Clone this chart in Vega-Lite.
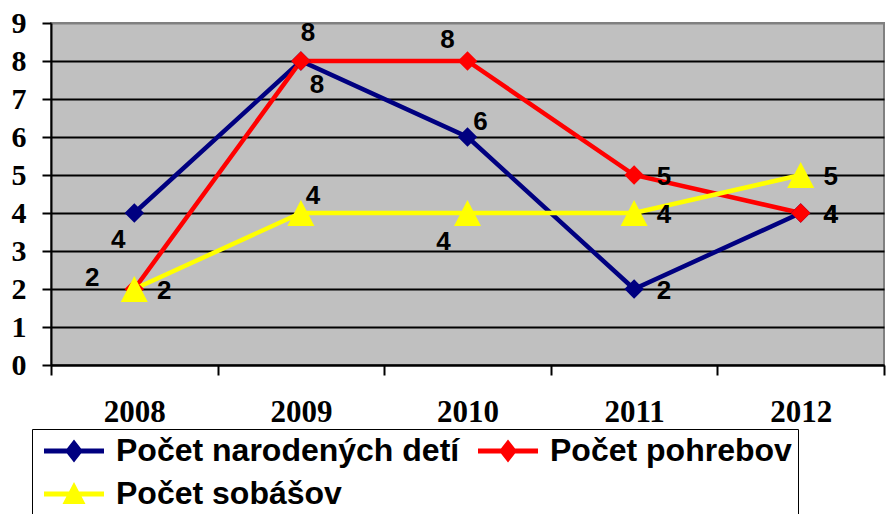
{
  "$schema": "https://vega.github.io/schema/vega-lite/v6.json",
  "width": 833,
  "height": 342,
  "autosize": {"type": "none"},
  "padding": {"left": 51, "top": 23, "right": 7, "bottom": 149},
  "background": "white",
  "config": {
    "view": {"fill": "#C0C0C0", "stroke": "#808080", "strokeWidth": 2},
    "text": {"font": "Liberation Sans", "fontWeight": "bold", "fontSize": 26, "color": "black"}
  },
  "data": {
    "values": [
      {"year": "2008", "series": "Počet narodených detí", "value": 4},
      {"year": "2009", "series": "Počet narodených detí", "value": 8},
      {"year": "2010", "series": "Počet narodených detí", "value": 6},
      {"year": "2011", "series": "Počet narodených detí", "value": 2},
      {"year": "2012", "series": "Počet narodených detí", "value": 4},
      {"year": "2008", "series": "Počet pohrebov", "value": 2},
      {"year": "2009", "series": "Počet pohrebov", "value": 8},
      {"year": "2010", "series": "Počet pohrebov", "value": 8},
      {"year": "2011", "series": "Počet pohrebov", "value": 5},
      {"year": "2012", "series": "Počet pohrebov", "value": 4},
      {"year": "2008", "series": "Počet sobášov", "value": 2},
      {"year": "2009", "series": "Počet sobášov", "value": 4},
      {"year": "2010", "series": "Počet sobášov", "value": 4},
      {"year": "2011", "series": "Počet sobášov", "value": 4},
      {"year": "2012", "series": "Počet sobášov", "value": 5}
    ]
  },
  "encoding": {
    "x": {
      "field": "year", "type": "ordinal",
      "scale": {"type": "band", "paddingInner": 0, "paddingOuter": 0},
      "axis": {
        "title": null, "labelAngle": 0, "grid": false, "tickBand": "extent",
        "domainColor": "black", "domainWidth": 2, "tickColor": "black", "tickWidth": 2, "tickSize": 10,
        "labelFont": "Liberation Serif", "labelFontWeight": "bold", "labelFontSize": 31, "labelColor": "black",
        "labelBaseline": "middle", "labelPadding": 37
      }
    },
    "y": {
      "field": "value", "type": "quantitative",
      "scale": {"domain": [0, 9], "nice": false},
      "axis": {
        "title": null, "values": [0, 1, 2, 3, 4, 5, 6, 7, 8, 9], "format": "d",
        "grid": true, "gridColor": {"condition": {"test": "datum.value === 9", "value": "#808080"}, "value": "black"},
        "gridWidth": 2, "gridOpacity": 1,
        "domainColor": "black", "domainWidth": 2, "tickColor": "black", "tickWidth": 2, "tickSize": 9,
        "labelFont": "Liberation Serif", "labelFontWeight": "bold", "labelFontSize": 30, "labelColor": "black",
        "labelPadding": 16
      }
    }
  },
  "layer": [
    {
      "mark": {"type": "point", "opacity": 0, "size": 1, "filled": true},
      "encoding": {
        "shape": {
          "field": "series", "type": "nominal",
          "scale": {
            "domain": ["Počet narodených detí", "Počet pohrebov", "Počet sobášov"],
            "range": [
              "M-1,-0.25L5,-0.25L5,0.25L-1,0.25Z M2,-1.15L2.9,0L2,1.15L1.1,0Z",
              "M-1,-0.25L5,-0.25L5,0.25L-1,0.25Z M2,-1.15L2.9,0L2,1.15L1.1,0Z",
              "M-1,-0.25L5,-0.25L5,0.25L-1,0.25Z M2,-1.2L3.15,1L0.85,1Z"
            ]
          },
          "legend": {
            "title": null, "orient": "none", "legendX": -19, "legendY": 406,
            "direction": "horizontal", "columns": 2,
            "padding": 6, "strokeColor": "black", "fillColor": "white",
            "symbolSize": 400, "symbolStrokeWidth": 0, "symbolOffset": 0,
            "labelOffset": 46, "labelFont": "Liberation Sans", "labelFontWeight": "bold",
            "labelFontSize": 32, "labelColor": "black", "labelLimit": 900,
            "rowPadding": 11, "columnPadding": 12,
            "encode": {
              "symbols": {"update": {
                "fill": {"scale": "color", "field": "value"},
                "stroke": {"value": "transparent"},
                "opacity": {"value": 1}
              }},
              "legend": {"update": {"strokeWidth": {"value": 2}}}
            }
          }
        }
      }
    },
    {
      "mark": {"type": "line", "strokeWidth": 4.5},
      "encoding": {
        "color": {
          "field": "series", "type": "nominal",
          "scale": {"domain": ["Počet narodených detí", "Počet pohrebov", "Počet sobášov"], "range": ["#000080", "#FF0000", "#FFFF00"]},
          "legend": null
        }
      }
    },
    {
      "transform": [{"filter": "datum.series !== 'Počet sobášov'"}],
      "mark": {"type": "point", "shape": "diamond", "size": 380, "filled": true, "opacity": 1},
      "encoding": {"color": {"field": "series", "type": "nominal", "legend": null}}
    },
    {
      "transform": [{"filter": "datum.series === 'Počet sobášov'"}],
      "mark": {"type": "point", "shape": "M0,-0.87L0.9,0.87L-0.9,0.87Z", "size": 900, "filled": true, "opacity": 1},
      "encoding": {"color": {"field": "series", "type": "nominal", "legend": null}}
    },
    {
      "transform": [{"filter": "(datum.year === '2011' || datum.year === '2012') || (datum.year === '2008' && datum.series === 'Počet sobášov')"}],
      "mark": {"type": "text", "dx": 30, "dy": 2},
      "encoding": {"text": {"field": "value", "type": "quantitative"}}
    },
    {
      "transform": [{"filter": "datum.year === '2008' && datum.series === 'Počet narodených detí'"}],
      "mark": {"type": "text", "dx": -16, "dy": 27},
      "encoding": {"text": {"field": "value", "type": "quantitative"}}
    },
    {
      "transform": [{"filter": "datum.year === '2008' && datum.series === 'Počet pohrebov'"}],
      "mark": {"type": "text", "dx": -42, "dy": -11},
      "encoding": {"text": {"field": "value", "type": "quantitative"}}
    },
    {
      "transform": [{"filter": "datum.year === '2009' && datum.series === 'Počet narodených detí'"}],
      "mark": {"type": "text", "dx": 16, "dy": 24},
      "encoding": {"text": {"field": "value", "type": "quantitative"}}
    },
    {
      "transform": [{"filter": "datum.year === '2009' && datum.series === 'Počet pohrebov'"}],
      "mark": {"type": "text", "dx": 7, "dy": -28},
      "encoding": {"text": {"field": "value", "type": "quantitative"}}
    },
    {
      "transform": [{"filter": "datum.year === '2009' && datum.series === 'Počet sobášov'"}],
      "mark": {"type": "text", "dx": 12, "dy": -17},
      "encoding": {"text": {"field": "value", "type": "quantitative"}}
    },
    {
      "transform": [{"filter": "datum.year === '2010' && datum.series === 'Počet narodených detí'"}],
      "mark": {"type": "text", "dx": 13, "dy": -15},
      "encoding": {"text": {"field": "value", "type": "quantitative"}}
    },
    {
      "transform": [{"filter": "datum.year === '2010' && datum.series === 'Počet pohrebov'"}],
      "mark": {"type": "text", "dx": -20, "dy": -21},
      "encoding": {"text": {"field": "value", "type": "quantitative"}}
    },
    {
      "transform": [{"filter": "datum.year === '2010' && datum.series === 'Počet sobášov'"}],
      "mark": {"type": "text", "dx": -24, "dy": 29},
      "encoding": {"text": {"field": "value", "type": "quantitative"}}
    }
  ]
}
